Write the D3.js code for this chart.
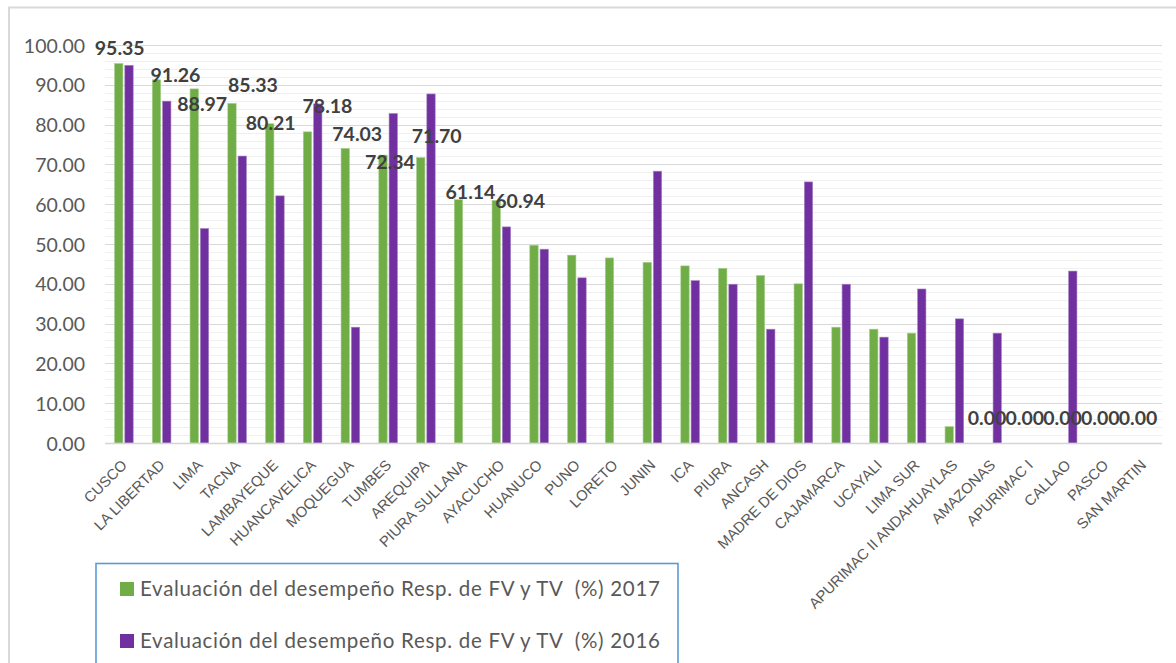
<!DOCTYPE html>
<html>
<head>
<meta charset="utf-8">
<script src="https://cdn.jsdelivr.net/npm/d3@7/dist/d3.min.js"></script>
<style>
  html, body { margin: 0; padding: 0; background: #fff; }
  svg { display: block; }
  .pre { white-space: pre; }
</style>
</head>
<body>
<svg id="chart" width="1176" height="663"></svg>
<script>
// Regions evaluated
const categories = [
  "CUSCO", "LA LIBERTAD", "LIMA", "TACNA", "LAMBAYEQUE", "HUANCAVELICA",
  "MOQUEGUA", "TUMBES", "AREQUIPA", "PIURA SULLANA", "AYACUCHO", "HUANUCO",
  "PUNO", "LORETO", "JUNIN", "ICA", "PIURA", "ANCASH", "MADRE DE DIOS",
  "CAJAMARCA", "UCAYALI", "LIMA SUR", "APURIMAC II ANDAHUAYLAS", "AMAZONAS",
  "APURIMAC I", "CALLAO", "PASCO", "SAN MARTIN"
];

// Performance evaluation (%) 2017
const values2017 = [
  95.35, 91.26, 88.97, 85.33, 80.21, 78.18,
  74.03, 72.34, 71.70, 61.14, 60.94, 49.7,
  47.2, 46.5, 45.4, 44.5, 43.9, 42.1, 40.0,
  29.1, 28.6, 27.6, 4.1, 0.00,
  0.00, 0.00, 0.00, 0.00
];

// Performance evaluation (%) 2016 (null = no result)
const values2016 = [
  94.9, 85.9, 53.9, 72.1, 62.1, 85.2,
  29.1, 82.8, 87.7, null, 54.3, 48.7,
  41.5, null, 68.3, 40.8, 39.9, 28.6, 65.6,
  39.9, 26.6, 38.7, 31.2, 27.6,
  null, 43.2, null, null
];

const yTicks = [0, 10, 20, 30, 40, 50, 60, 70, 80, 90, 100];

const seriesNames = [
  "Evaluación del desempeño Resp. de FV y TV  (%) 2017",
  "Evaluación del desempeño Resp. de FV y TV  (%) 2016"
];
const seriesColors = ["#70AD47", "#7030A0"];

// 2017 data labels that are shown, with their hand-placed offsets [dx, dy] in px
const labelNudge = {
  "CUSCO": [1, 1],
  "LA LIBERTAD": [19, 12],
  "LIMA": [8, 32],
  "TACNA": [21, -1],
  "LAMBAYEQUE": [1, 16],
  "HUANCAVELICA": [20, -9],
  "MOQUEGUA": [12, 3],
  "TUMBES": [7, 24],
  "AREQUIPA": [16, -5],
  "PIURA SULLANA": [12, 9],
  "AYACUCHO": [24, 18],
  "AMAZONAS": [0, -8],
  "APURIMAC I": [0, -8],
  "CALLAO": [0, -8],
  "PASCO": [0, -8],
  "SAN MARTIN": [0, -8]
};

const svg = d3.select("#chart");
const W = 1176, H = 663;
const plot = { left: 105, right: 1162, top: 45, bottom: 443 };

const calibri = "Lato, 'Open Sans', sans-serif";
const arial = "'Liberation Sans', Arial, sans-serif";

// chart frame
svg.append("path")
  .attr("d", `M9,${H + 2}V7.5H${W + 2}`)
  .attr("fill", "none")
  .attr("stroke", "#d9d9d9")
  .attr("stroke-width", 2);

const x = d3.scaleBand().domain(categories).range([plot.left, plot.right]).paddingInner(0).paddingOuter(0);
const y = d3.scaleLinear().domain([0, 100]).range([plot.bottom, plot.top]);

const bw = x.bandwidth();
const barW = bw * 0.222;
const barGap = bw * 0.05;
const xSub = d3.scaleOrdinal().domain([0, 1]).range([-barGap / 2 - barW, barGap / 2]);

// minor gridlines every 2
const minorTicks = d3.range(0, 100.001, 2).filter(v => v % 10 !== 0);
svg.append("g").selectAll("line").data(minorTicks).join("line")
  .attr("x1", plot.left).attr("x2", plot.right)
  .attr("y1", d => Math.round(y(d)) + 0.5).attr("y2", d => Math.round(y(d)) + 0.5)
  .attr("stroke", "#f0f0f0").attr("stroke-width", 1);

// major gridlines
svg.append("g").selectAll("line").data(yTicks.filter(v => v > 0)).join("line")
  .attr("x1", plot.left).attr("x2", plot.right)
  .attr("y1", d => Math.round(y(d)) + 0.5).attr("y2", d => Math.round(y(d)) + 0.5)
  .attr("stroke", "#d9d9d9").attr("stroke-width", 1);

// y axis labels
const yAxis = d3.axisLeft(y).tickValues(yTicks).tickFormat(d3.format(".2f")).tickSize(0).tickPadding(0);
const gy = svg.append("g").attr("transform", `translate(85,0)`).call(yAxis);
gy.select(".domain").remove();
gy.selectAll("text")
  .attr("font-family", calibri).attr("font-size", 19.5).attr("fill", "#595959")
  .attr("dy", "0.36em");

// bars
const series = [values2017, values2016];
series.forEach((vals, si) => {
  svg.append("g").selectAll("rect")
    .data(categories.map((c, i) => ({ c, v: vals[i] })).filter(d => d.v != null && d.v > 0))
    .join("rect")
    .attr("x", d => x(d.c) + bw / 2 + xSub(si))
    .attr("width", barW)
    .attr("y", d => y(d.v))
    .attr("height", d => y(0) - y(d.v))
    .attr("fill", seriesColors[si])
    .attr("stroke", si === 0 ? "#a9cf8f" : "#a989c6")
    .attr("stroke-width", 0.6);
});

// category axis line
svg.append("line")
  .attr("x1", plot.left).attr("x2", plot.right)
  .attr("y1", plot.bottom + 0.5).attr("y2", plot.bottom + 0.5)
  .attr("stroke", "#d4d4d4").attr("stroke-width", 1.6);

// x axis labels
const xAxis = d3.axisBottom(x).tickSize(0).tickPadding(0);
const gx = svg.append("g").attr("transform", `translate(0,${plot.bottom})`).call(xAxis);
gx.select(".domain").remove();
gx.selectAll(".tick text")
  .attr("font-family", arial).attr("font-size", 14.8).attr("fill", "#595959")
  .attr("text-anchor", "end")
  .attr("y", 0).attr("dy", 0)
  .attr("transform", "translate(4,23) rotate(-45)");

// data labels on 2017 bars
const labelData = categories.map((c, i) => ({ c, v: values2017[i] })).filter(d => labelNudge[d.c]);
svg.append("g").selectAll("text").data(labelData).join("text")
  .attr("x", d => x(d.c) + bw / 2 + xSub(0) + barW / 2 + labelNudge[d.c][0])
  .attr("y", d => y(d.v) - 17 + labelNudge[d.c][1])
  .attr("dy", "0.36em")
  .attr("text-anchor", "middle")
  .attr("font-family", calibri).attr("font-weight", 700).attr("font-size", 19.5)
  .attr("fill", "#404040")
  .text(d => d3.format(".2f")(d.v));

// legend
const legendTextWidth = 520;
const lg = svg.append("g");
lg.append("rect")
  .attr("x", 96).attr("y", 563.5).attr("width", 582).attr("height", 130)
  .attr("fill", "#fff").attr("stroke", "#5b9bd5").attr("stroke-width", 1.6);
const rows = lg.selectAll("g.row").data(seriesNames).join("g")
  .attr("class", "row")
  .attr("transform", (d, i) => `translate(120,${589 + i * 52})`);
rows.append("rect")
  .attr("x", 0).attr("y", -7).attr("width", 14).attr("height", 14)
  .attr("fill", (d, i) => seriesColors[i]);
rows.append("text")
  .attr("class", "pre")
  .attr("x", 20).attr("y", 0).attr("dy", "0.36em")
  .attr("font-family", calibri).attr("font-size", 20.5).attr("fill", "#595959")
  .text(d => d)
  .each(function (d) {
    // spread the entry so it spans the legend's text column
    const len = this.getComputedTextLength();
    const ls = (legendTextWidth - len) / Math.max(1, d.length - 1);
    if (ls > 0) d3.select(this).attr("letter-spacing", ls.toFixed(2));
  });
</script>
</body>
</html>
